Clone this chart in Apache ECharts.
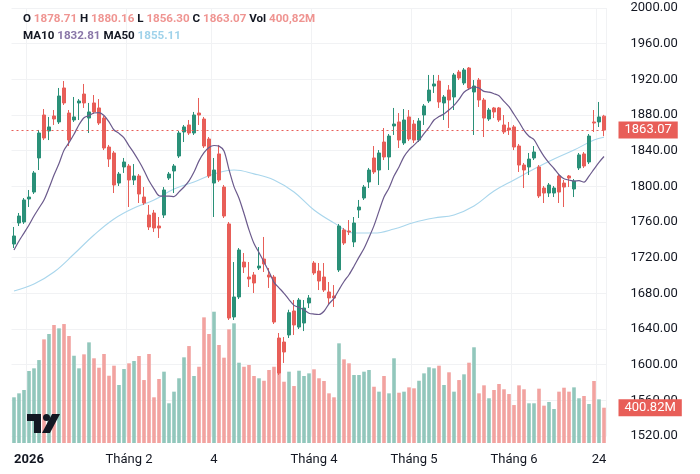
<!DOCTYPE html>
<html><head><meta charset="utf-8">
<script src="https://cdn.jsdelivr.net/npm/echarts@6/dist/echarts.min.js"></script>
<style>html,body{margin:0;padding:0;background:#fff}#c{width:700px;height:474px}</style>
</head><body><div id="c"></div>
<script>
// ---- data ----
const opens = [1735.3,1758.9,1760.0,1785.8,1793.6,1831.8,1880.0,1862.1,1878.9,1872.2,
1910.3,1882.2,1874.4,1893.5,1903.5,1876.6,1893.5,1887.9,1876.6,1844.1,
1837.4,1803.7,1821.7,1822.8,1807.1,1811.6,1788.0,1767.8,1770.1,1755.5,
1767.8,1809.3,1817.2,1834.0,1861.0,1868.8,1859.8,1882.2,1875.5,1853.1,
1803.7,1836.3,1799.2,1757.8,1653.5,1675.9,1715.1,1698.3,1700.6,1708.4,
1718.5,1700.6,1698.3,1629.9,1625.4,1633.3,1660.2,1642.2,1646.7,1669.2,
1714.0,1705.0,1698.3,1681.5,1677.0,1706.2,1751.0,1749.9,1737.6,1773.5,
1786.9,1804.9,1831.8,1818.3,1849.7,1832.9,1867.7,1872.2,1848.6,1877.8,
1869.9,1851.9,1880.0,1895.7,1912.5,1918.1,1893.5,1908.0,1900.2,1928.2,
1915.9,1932.7,1905.8,1919.2,1896.8,1875.5,1887.9,1887.9,1868.8,1865.4,
1866.6,1845.2,1823.9,1821.7,1831.8,1821.7,1798.1,1792.5,1792.5,1811.6,
1803.7,1811.6,1797.0,1820.6,1836.3,1827.3,1872.2,1872.2,1878.71];
const closes = [1744.3,1766.7,1784.7,1788.0,1815.0,1859.8,1854.2,1866.6,1875.5,1901.3,
1893.5,1851.9,1877.8,1895.7,1893.5,1883.4,1883.4,1871.0,1843.0,1830.6,
1801.5,1813.8,1827.3,1807.1,1811.6,1791.4,1781.3,1754.4,1753.3,1753.3,
1795.9,1813.8,1822.8,1859.8,1866.6,1859.8,1880.0,1880.0,1845.2,1811.6,
1818.3,1807.1,1766.7,1652.3,1675.9,1728.6,1709.5,1696.1,1691.6,1710.6,
1712.9,1698.3,1647.8,1590.6,1614.2,1658.3,1644.5,1672.5,1663.5,1674.8,
1702.8,1693.8,1683.7,1674.8,1674.8,1755.5,1736.4,1748.8,1758.9,1776.8,
1799.2,1818.3,1816.1,1837.4,1832.9,1856.4,1869.9,1851.9,1874.4,1853.1,
1851.9,1873.3,1890.1,1908.0,1914.8,1894.6,1900.2,1896.8,1924.9,1921.5,
1930.5,1910.3,1912.5,1896.8,1876.6,1885.6,1883.4,1874.4,1861.0,1863.2,
1844.1,1823.9,1818.3,1830.6,1838.5,1789.2,1792.5,1801.5,1798.1,1793.6,
1799.2,1809.3,1806.0,1835.2,1822.8,1856.4,1871.0,1877.8,1863.07];
const highs = [1754.4,1770.1,1786.9,1795.9,1817.2,1863.2,1886.7,1877.8,1885.6,1910.3,
1918.1,1885.6,1900.2,1897.9,1914.8,1893.5,1902.4,1897.9,1878.9,1846.4,
1839.6,1816.1,1831.8,1825.0,1825.0,1813.8,1799.2,1779.1,1773.5,1765.6,
1799.2,1816.1,1825.0,1862.1,1868.8,1874.4,1883.4,1899.1,1877.8,1855.3,
1831.8,1846.4,1801.5,1760.0,1715.1,1730.8,1725.2,1715.1,1703.9,1731.9,
1743.2,1708.4,1700.6,1635.5,1631.0,1661.6,1672.5,1674.8,1672.5,1678.1,
1716.2,1714.0,1714.0,1692.7,1689.3,1757.8,1753.3,1762.2,1765.6,1784.7,
1801.5,1820.6,1845.2,1840.7,1865.4,1858.7,1887.9,1882.2,1886.7,1885.6,
1874.4,1876.6,1892.3,1924.9,1924.9,1924.9,1902.4,1913.6,1927.1,1930.5,
1932.7,1933.8,1919.2,1921.5,1899.1,1887.9,1889.0,1889.0,1880.0,1872.2,
1868.8,1847.5,1826.2,1837.4,1845.2,1823.9,1800.4,1803.7,1800.4,1813.8,
1807.1,1812.7,1808.2,1837.4,1838.5,1858.7,1885.6,1894.6,1880.16];
const lows = [1730.8,1755.5,1757.8,1776.8,1791.4,1818.3,1851.9,1851.9,1868.8,1869.9,
1891.2,1845.2,1872.2,1874.4,1887.9,1859.8,1881.1,1868.8,1840.7,1821.7,
1792.5,1800.4,1815.0,1776.8,1801.5,1781.3,1779.1,1751.0,1748.8,1742.1,
1764.5,1807.1,1792.5,1831.8,1849.7,1857.6,1857.6,1868.8,1843.0,1809.3,
1765.6,1804.9,1764.5,1650.1,1650.1,1673.6,1702.8,1687.1,1680.4,1706.2,
1703.9,1686.0,1645.6,1588.4,1601.9,1629.9,1633.3,1640.0,1637.7,1663.5,
1700.6,1683.7,1681.5,1666.9,1664.7,1703.9,1734.2,1745.4,1731.9,1764.5,
1784.7,1798.1,1813.8,1801.5,1829.5,1818.3,1857.6,1843.0,1846.4,1850.8,
1848.6,1849.7,1868.8,1893.5,1904.7,1887.9,1874.4,1865.4,1885.6,1919.2,
1913.6,1908.0,1857.6,1889.0,1855.3,1873.3,1876.6,1872.2,1858.7,1857.6,
1840.7,1816.1,1798.1,1812.7,1829.5,1786.9,1781.3,1788.0,1788.0,1781.3,
1776.8,1799.2,1788.0,1818.3,1820.6,1825.0,1860.9,1866.5,1856.30];
// volume, millions
const volumes = [519,564,602,818,848,942,1177,1238,1340,1302,
1351,1215,991,848,1007,1143,962,855,1011,764,
878,659,840,905,931,988,715,1011,519,727,
810,451,583,735,973,1101,761,866,1427,1238,
1491,1113,969,1291,1359,912,866,886,761,735,
707,829,866,810,696,810,647,821,761,791,
837,735,704,564,519,1132,950,905,772,772,
810,829,639,583,761,564,962,571,583,632,
621,707,791,860,848,878,659,803,583,715,
780,912,1087,564,655,508,602,670,610,556,
431,655,610,451,451,617,424,466,386,583,
628,583,632,508,534,443,704,496,400.82];
// MA10 for the first 9 sessions (needs earlier closes)
const ma10Lead = [1728.6,1738.7,1747.6,1756.6,1766.7,1775.7,1784.7,1798.1,1812.7];
const ma50Points = [[0,1682.6],[4,1690.5],[8,1703.9],[12,1724.1],[16,1745.4],[20,1763.4],[24,1775.7],[28,1784.7],[32,1797.0],[36,1804.9],[40,1813.8],[44,1818.3],[48,1814.0],[52,1807.1],[56,1793.6],[60,1773.5],[64,1759.0],[68,1747.6],[72,1747.6],[76,1752.1],[80,1759.5],[84,1764.5],[88,1767.9],[92,1777.9],[96,1794.7],[100,1807.1],[104,1819.4],[108,1830.6],[112,1840.7],[116,1851.9],[118,1855.11]];
const legendMA = [1832.81, 1855.11];
const tickIndex = [3, 23, 40, 60, 80, 100, 117];
const tickLabels = ['2026', 'Tháng 2', '4', 'Tháng 4', 'Tháng 5', 'Tháng 6', '24'];
const priceMin = 1520, priceMax = 2000, priceStep = 40;

// ---- derived ----
const n = closes.length;
const categories = closes.map((_, i) => String(i));
const ohlc = closes.map((c, i) => [opens[i], c, lows[i], highs[i]]);
const ma10 = closes.map((c, i) => {
  if (i < 9) return ma10Lead[i];
  let s = 0; for (let k = i - 9; k <= i; k++) s += closes[k];
  return +(s / 10).toFixed(2);
});
const UP = '#2a9078', DOWN = '#e85e58';
const VUP = '#92c7bc', VDOWN = '#f2a3a0';
const FONT = 'Roboto, "Noto Sans", sans-serif';
const last = n - 1;
const f2 = v => Number(v).toFixed(2);

const chart = echarts.init(document.getElementById('c'), null, {renderer: 'canvas'});
const isTick = (i) => tickIndex.indexOf(i) >= 0;
const LOGO = '#131722';
const LFS = 11.6;

chart.setOption({
  animation: false,
  backgroundColor: '#ffffff',
  textStyle: {fontFamily: FONT},
  title: {
    left: 18, top: 6,
    text: `{k|O} {v|${f2(opens[last])}} {k|H} {v|${f2(highs[last])}} {k|L} {v|${f2(lows[last])}} {k|C} {v|${f2(closes[last])}} {k|Vol} {v|${f2(volumes[last]).replace('.', ',')}M}\n` +
          `{k|MA10} {m1|${f2(legendMA[0])}} {k|MA50} {m2|${f2(legendMA[1])}}`,
    textStyle: {
      fontFamily: FONT, fontSize: LFS, lineHeight: 17,
      rich: {
        k: {color: '#131722', fontSize: LFS, fontFamily: FONT, lineHeight: 17},
        v: {color: '#ef9491', fontSize: LFS, fontFamily: FONT, lineHeight: 17},
        m1: {color: '#8a77a8', fontSize: LFS, fontFamily: FONT, lineHeight: 17},
        m2: {color: '#9fd2ea', fontSize: LFS, fontFamily: FONT, lineHeight: 17}
      }
    }
  },
  grid: [
    {left: 11.5, width: 595, top: 8, height: 428},
    {left: 11.5, width: 595, top: 300, height: 143}
  ],
  xAxis: [
    {
      type: 'category', gridIndex: 0, data: categories, boundaryGap: true,
      axisLine: {show: false}, axisTick: {show: false}, axisLabel: {show: false},
      splitLine: {show: true, interval: (i) => isTick(i), lineStyle: {color: '#f1f2f4', width: 1}}
    },
    {
      type: 'category', gridIndex: 1, data: categories, boundaryGap: true,
      axisLine: {show: false}, axisTick: {show: false}, splitLine: {show: false},
      axisLabel: {
        interval: (i) => isTick(i),
        margin: 10,
        fontSize: 13, color: '#131722', fontFamily: FONT,
        formatter: (v, i) => {
          const k = tickIndex.indexOf(i);
          if (k < 0) return '';
          return k === 0 ? '{b|' + tickLabels[k] + '}' : tickLabels[k];
        },
        rich: {b: {fontWeight: 'bold', fontSize: 13, color: '#131722', fontFamily: FONT}}
      }
    }
  ],
  yAxis: [
    {
      type: 'value', gridIndex: 0, position: 'right', min: priceMin, max: priceMax, interval: priceStep,
      axisLine: {show: false}, axisTick: {show: false},
      axisLabel: {margin: 24, fontSize: 13, color: '#131722', fontFamily: FONT, formatter: v => f2(v)},
      splitLine: {show: true, lineStyle: {color: '#f1f2f4', width: 1}}
    },
    {
      type: 'value', gridIndex: 1, min: 0, max: 1624, show: false,
      splitLine: {show: false}
    }
  ],
  series: [
    {
      name: 'Vol', type: 'bar', xAxisIndex: 1, yAxisIndex: 1, z: 1,
      barWidth: '72%',
      data: volumes,
      itemStyle: {color: (p) => closes[p.dataIndex] >= opens[p.dataIndex] ? VUP : VDOWN},
      markLine: {
        silent: true, symbol: ['none', 'none'], z: 5,
        lineStyle: {color: 'transparent', width: 1},
        data: [{yAxis: volumes[last]}],
        label: {
          show: true, position: 'end', distance: 12,
          formatter: f2(volumes[last]) + 'M',
          backgroundColor: DOWN, color: '#ffffff', padding: [2, 6, 2, 6],
          fontSize: 13, fontFamily: FONT
        }
      }
    },
    {
      name: 'MA50', type: 'line', xAxisIndex: 0, yAxisIndex: 0, z: 2,
      data: ma50Points, smooth: 0.4, showSymbol: false, symbol: 'none',
      lineStyle: {color: '#a9d6ec', width: 1.1}
    },
    {
      name: 'K', type: 'candlestick', xAxisIndex: 0, yAxisIndex: 0, z: 3,
      barWidth: 3,
      data: ohlc,
      itemStyle: {color: UP, color0: DOWN, borderColor: UP, borderColor0: DOWN, borderWidth: 1},
      markLine: {
        silent: true, symbol: ['none', 'none'], z: 5,
        lineStyle: {color: DOWN, type: [2, 3], width: 1},
        data: [{yAxis: closes[last]}],
        label: {
          show: true, position: 'end', distance: 12,
          formatter: f2(closes[last]),
          backgroundColor: DOWN, color: '#ffffff', padding: [2, 6, 2, 6],
          fontSize: 13, fontFamily: FONT
        }
      }
    },
    {
      name: 'MA10', type: 'line', xAxisIndex: 0, yAxisIndex: 0, z: 4,
      data: ma10, smooth: 0.3, showSymbol: false, symbol: 'none',
      lineStyle: {color: '#6b5a8c', width: 1.2}
    }
  ],
  graphic: [
    {type: 'rect', z: 100, shape: {x: 27, y: 414, width: 14, height: 7}, style: {fill: LOGO}},
    {type: 'rect', z: 100, shape: {x: 34, y: 414, width: 7, height: 19}, style: {fill: LOGO}},
    {type: 'circle', z: 100, shape: {cx: 46.5, cy: 417.5, r: 3.5}, style: {fill: LOGO}},
    {type: 'polygon', z: 100, shape: {points: [[52, 414], [60, 414], [50, 433], [42, 433]]}, style: {fill: LOGO}}
  ]
});
</script></body></html>
